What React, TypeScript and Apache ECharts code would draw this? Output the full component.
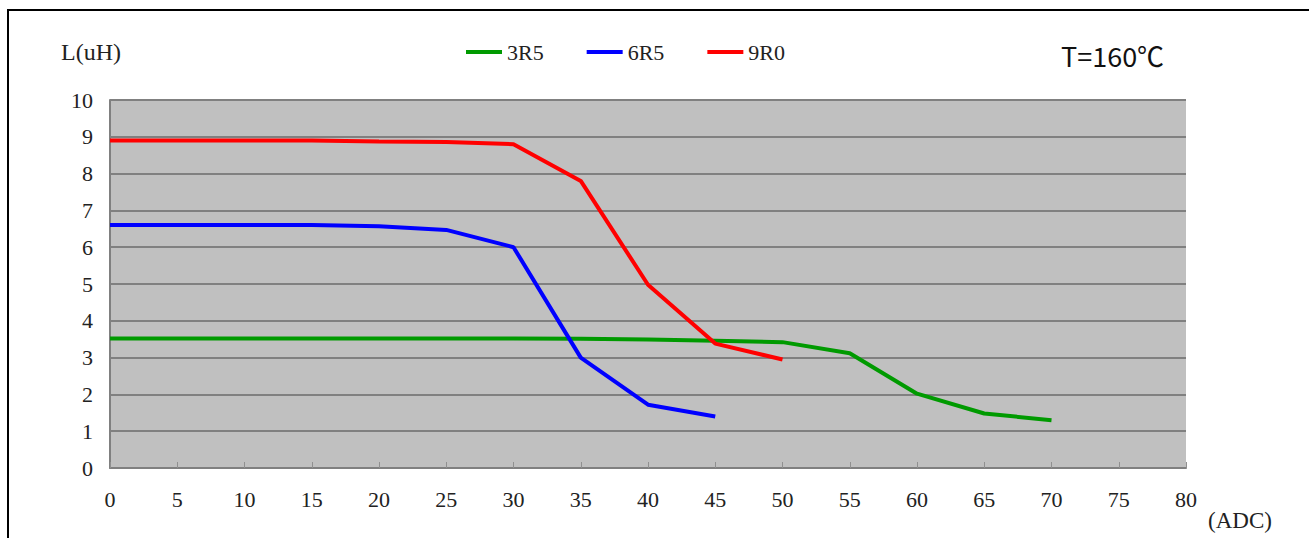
import React, { useEffect, useRef } from "react";
import * as echarts from "echarts";

const currents3R5 = [0, 5, 10, 15, 20, 25, 30, 35, 40, 45, 50, 55, 60, 65, 70];
const values3R5 = [3.52, 3.52, 3.52, 3.52, 3.52, 3.52, 3.52, 3.51, 3.49, 3.46, 3.42, 3.12, 2.02, 1.48, 1.3];
const currents6R5 = [0, 5, 10, 15, 20, 25, 30, 35, 40, 45];
const values6R5 = [6.6, 6.6, 6.6, 6.6, 6.57, 6.47, 6.0, 3.0, 1.72, 1.4];
const currents9R0 = [0, 5, 10, 15, 20, 25, 30, 35, 40, 45, 50];
const values9R0 = [8.9, 8.9, 8.9, 8.9, 8.87, 8.86, 8.8, 7.8, 4.98, 3.38, 2.95];
const seriesNames = ["3R5", "6R5", "9R0"];
const seriesColors = ["#009a00", "#0000ff", "#ff0000"];

const pairs = (xs: number[], ys: number[]) => xs.map((x, i) => [x, ys[i]]);

export default function App() {
  const ref = useRef<HTMLDivElement>(null);
  useEffect(() => {
    if (!ref.current) return;
    const chart = echarts.init(ref.current, undefined, { renderer: "svg" });
    const serif = "'Liberation Serif', 'DejaVu Serif', serif";
    const datasets = [
      pairs(currents3R5, values3R5),
      pairs(currents6R5, values6R5),
      pairs(currents9R0, values9R0),
    ];
    chart.setOption({
      animation: false,
      backgroundColor: "#ffffff",
      grid: { left: 110, top: 100, right: 123, bottom: 70, show: true, backgroundColor: "#c0c0c0", borderWidth: 0 },
      legend: {
        top: 36,
        left: 461,
        itemWidth: 36,
        itemHeight: 4,
        itemGap: 43,
        icon: "rect",
        textStyle: { fontFamily: serif, fontSize: 22, color: "#222" },
        data: seriesNames,
      },
      xAxis: {
        type: "value",
        min: 0,
        max: 80,
        interval: 5,
        axisLine: { show: true, lineStyle: { color: "#808080", width: 2 } },
        axisTick: { show: true, inside: true, length: 6, lineStyle: { color: "#909090", width: 1 } },
        axisLabel: { fontFamily: serif, fontSize: 22, color: "#222", margin: 20 },
        splitLine: { show: false },
      },
      yAxis: {
        type: "value",
        min: 0,
        max: 10,
        interval: 1,
        axisLine: { show: true, lineStyle: { color: "#808080", width: 2 } },
        axisTick: { show: false },
        axisLabel: { fontFamily: serif, fontSize: 22, color: "#222", margin: 17 },
        splitLine: { show: true, lineStyle: { color: "#808080", width: 2 } },
      },
      series: seriesNames.map((name, i) => ({
        name,
        type: "line",
        data: datasets[i],
        showSymbol: false,
        symbol: "none",
        lineStyle: { color: seriesColors[i], width: 4 },
        itemStyle: { color: seriesColors[i] },
      })),
      graphic: [
        {
          type: "rect",
          shape: { x: 8, y: 10, width: 1400, height: 700 },
          style: { fill: "none", stroke: "#000", lineWidth: 2 },
          z: 100,
        },
        {
          type: "text",
          x: 61,
          y: 52,
          style: { text: "L(uH)", fontFamily: serif, fontSize: 24, fill: "#222", verticalAlign: "middle" },
        },
        {
          type: "text",
          x: 1208,
          y: 520,
          style: { text: "(ADC)", fontFamily: serif, fontSize: 23, fill: "#222", verticalAlign: "middle" },
        },
        {
          type: "text",
          x: 1061,
          y: 55,
          style: {
            text: "T=160℃",
            fontFamily: "'Noto Sans CJK TC', 'Noto Sans', sans-serif",
            fontSize: 27,
            fill: "#111",
            verticalAlign: "middle",
          },
        },
      ],
    });
    return () => chart.dispose();
  }, []);
  return <div ref={ref} style={{ position: "absolute", left: 0, top: 0, width: 1309, height: 538 }} />;
}
